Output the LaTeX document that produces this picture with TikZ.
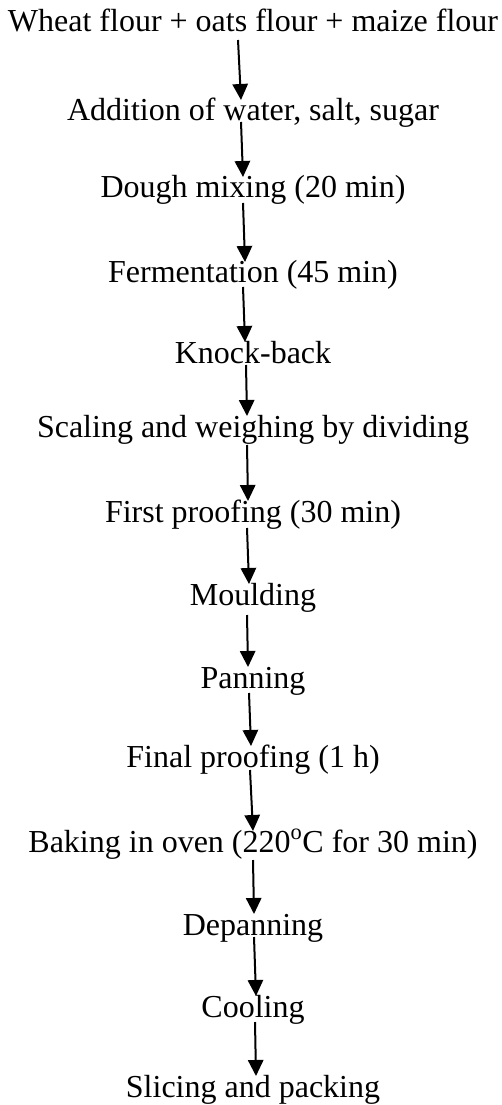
\documentclass[tikz,border=0pt]{standalone}
\usepackage{fontspec}
\setmainfont{Liberation Serif}
\usetikzlibrary{arrows.meta}
\newcommand\flowarr[5]{\draw[flowarrow] ([shift={(#3-253,#5)}]#1.base) -- ([shift={(#4-253,-21)}]#2.base);}
\begin{document}
\begin{tikzpicture}[x=0.75pt,y=-0.75pt,
  flowtext/.style={inner sep=0pt,anchor=base,font=\fontsize{24}{28}\selectfont},
  flowarrow/.style={line width=1.5pt,-{Triangle[length=12pt,width=11.5pt]}}]
\useasboundingbox (0,0) rectangle (501,1105);
\node[flowtext] (n1) at (253,32) {Wheat flour + oats flour + maize flour};
\node[flowtext] (n2) at (253,121) {Addition of water, salt, sugar};
\node[flowtext] (n3) at (253,198) {Dough mixing (20 min)};
\node[flowtext] (n4) at (253,283) {Fermentation (45 min)};
\node[flowtext] (n5) at (253,363) {Knock-back};
\node[flowtext] (n6) at (253,437) {Scaling and weighing by dividing};
\node[flowtext] (n7) at (253,522) {First proofing (30 min)};
\node[flowtext] (n8) at (253,605) {Moulding};
\node[flowtext] (n9) at (253,688) {Panning};
\node[flowtext] (n10) at (253,767) {Final proofing (1 h)};
\node[flowtext] (n11) at (253,852) {Baking in oven (220\textsuperscript{o}C for 30 min)};
\node[flowtext] (n12) at (253,935) {Depanning};
\node[flowtext] (n13) at (253,1017) {Cooling};
\node[flowtext] (n14) at (253,1097) {Slicing and packing};
\flowarr{n1}{n2}{238}{241}{8}
\flowarr{n2}{n3}{241}{243}{1}
\flowarr{n3}{n4}{243}{245}{5}
\flowarr{n4}{n5}{243}{245}{4}
\flowarr{n5}{n6}{246}{247}{2}
\flowarr{n6}{n7}{247}{248}{8}
\flowarr{n7}{n8}{247}{249}{6}
\flowarr{n8}{n9}{247}{248}{10}
\flowarr{n9}{n10}{249}{251}{5}
\flowarr{n10}{n11}{250}{253}{3}
\flowarr{n11}{n12}{253}{254}{8}
\flowarr{n12}{n13}{254}{256}{2}
\flowarr{n13}{n14}{255}{256}{5}
\end{tikzpicture}
\end{document}
